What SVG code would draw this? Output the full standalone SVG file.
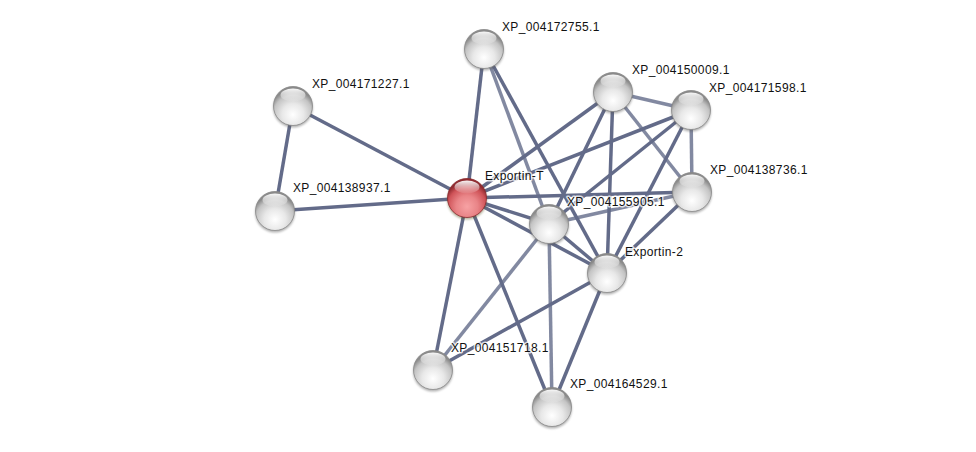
<svg xmlns="http://www.w3.org/2000/svg" xmlns:xlink="http://www.w3.org/1999/xlink" width="976" height="452" viewBox="0 0 976 452">
<style>
.e{stroke:#636b89;stroke-width:3.5;stroke-linecap:butt;fill:none}
.l{stroke-opacity:0.8}
.t{font-family:"Liberation Sans",Arial,sans-serif;font-size:12px;letter-spacing:0.35px;fill:#111;stroke:#fff;stroke-width:3;stroke-opacity:0.75;paint-order:stroke;stroke-linejoin:round}
</style>
<defs>
<radialGradient id="gg" cx="50%" cy="72%" r="62%">
<stop offset="0" stop-color="#ffffff"/>
<stop offset="0.45" stop-color="#e8e8e8"/>
<stop offset="0.8" stop-color="#c4c4c4"/>
<stop offset="1" stop-color="#8a8a8a"/>
</radialGradient>
<radialGradient id="rg" cx="50%" cy="72%" r="62%">
<stop offset="0" stop-color="#f7a2a4"/>
<stop offset="0.45" stop-color="#e98487"/>
<stop offset="0.8" stop-color="#cf5358"/>
<stop offset="1" stop-color="#8f2a2f"/>
</radialGradient>
<linearGradient id="hl" x1="0" y1="0" x2="0" y2="1">
<stop offset="0" stop-color="#fff" stop-opacity="0.95"/>
<stop offset="1" stop-color="#fff" stop-opacity="0.05"/>
</linearGradient>
<filter id="sh" x="-30%" y="-30%" width="160%" height="170%">
<feGaussianBlur stdDeviation="1.2"/>
</filter>
<g id="gs">
<circle cx="0" cy="1.8" r="19.8" fill="#555" opacity="0.45" filter="url(#sh)"/>
<circle cx="0" cy="0" r="19.5" fill="url(#gg)" stroke="#888" stroke-width="0.8"/>
<ellipse cx="0" cy="-11" rx="12.5" ry="6.5" fill="url(#hl)"/>
</g>
<g id="rs">
<circle cx="0" cy="1.8" r="19.8" fill="#552" opacity="0.45" filter="url(#sh)"/>
<circle cx="0" cy="0" r="19.5" fill="url(#rg)" stroke="#8a2a2e" stroke-width="0.8"/>
<ellipse cx="0" cy="-11" rx="12.5" ry="6.5" fill="url(#hl)"/>
</g>
</defs>
<rect width="976" height="452" fill="#fff"/>
<g id="edges">
<line class="e" x1="293" y1="106" x2="275" y2="211"/>
<line class="e" x1="293" y1="106" x2="467" y2="198"/>
<line class="e" x1="275" y1="211" x2="467" y2="198"/>
<line class="e" x1="484" y1="49" x2="467" y2="198"/>
<line class="e l" x1="484" y1="49" x2="549" y2="224"/>
<line class="e" x1="484" y1="49" x2="607" y2="273"/>
<line class="e" x1="467" y1="198" x2="613" y2="92"/>
<line class="e" x1="467" y1="198" x2="691" y2="110"/>
<line class="e" x1="467" y1="198" x2="692" y2="192"/>
<line class="e" x1="467" y1="198" x2="549" y2="224"/>
<line class="e" x1="467" y1="198" x2="607" y2="273"/>
<line class="e" x1="467" y1="198" x2="433" y2="370"/>
<line class="e" x1="467" y1="198" x2="552" y2="407"/>
<line class="e l" x1="613" y1="92" x2="691" y2="110"/>
<line class="e" x1="613" y1="92" x2="549" y2="224"/>
<line class="e" x1="613" y1="92" x2="607" y2="273"/>
<line class="e l" x1="613" y1="92" x2="692" y2="192"/>
<line class="e l" x1="691" y1="110" x2="692" y2="192"/>
<line class="e" x1="691" y1="110" x2="549" y2="224"/>
<line class="e" x1="691" y1="110" x2="607" y2="273"/>
<line class="e l" x1="692" y1="192" x2="549" y2="224"/>
<line class="e" x1="692" y1="192" x2="607" y2="273"/>
<line class="e" x1="549" y1="224" x2="607" y2="273"/>
<line class="e l" x1="549" y1="224" x2="433" y2="370"/>
<line class="e l" x1="549" y1="224" x2="552" y2="407"/>
<line class="e" x1="607" y1="273" x2="433" y2="370"/>
<line class="e" x1="607" y1="273" x2="552" y2="407"/>
</g>
<g id="n-XP_004172755"><use xlink:href="#gs" x="484" y="49"/><text class="t" x="502" y="31">XP_004172755.1</text></g>
<g id="n-XP_004171227"><use xlink:href="#gs" x="293" y="106"/><text class="t" x="312" y="88">XP_004171227.1</text></g>
<g id="n-XP_004138937"><use xlink:href="#gs" x="275" y="211"/><text class="t" x="293" y="192">XP_004138937.1</text></g>
<g id="n-XP_004150009"><use xlink:href="#gs" x="613" y="92"/><text class="t" x="632" y="74">XP_004150009.1</text></g>
<g id="n-XP_004171598"><use xlink:href="#gs" x="691" y="110"/><text class="t" x="709" y="92">XP_004171598.1</text></g>
<g id="n-XP_004138736"><use xlink:href="#gs" x="692" y="192"/><text class="t" x="710" y="174">XP_004138736.1</text></g>
<g id="n-Exportin-T"><use xlink:href="#rs" x="467" y="198"/><text class="t" x="485" y="180">Exportin-T</text></g>
<g id="n-XP_004155905"><use xlink:href="#gs" x="549" y="224"/><text class="t" x="567" y="206">XP_004155905.1</text></g>
<g id="n-Exportin-2"><use xlink:href="#gs" x="607" y="273"/><text class="t" x="625" y="256">Exportin-2</text></g>
<g id="n-XP_004151718"><use xlink:href="#gs" x="433" y="370"/><text class="t" x="451" y="352">XP_004151718.1</text></g>
<g id="n-XP_004164529"><use xlink:href="#gs" x="552" y="407"/><text class="t" x="570" y="388">XP_004164529.1</text></g>
</svg>
